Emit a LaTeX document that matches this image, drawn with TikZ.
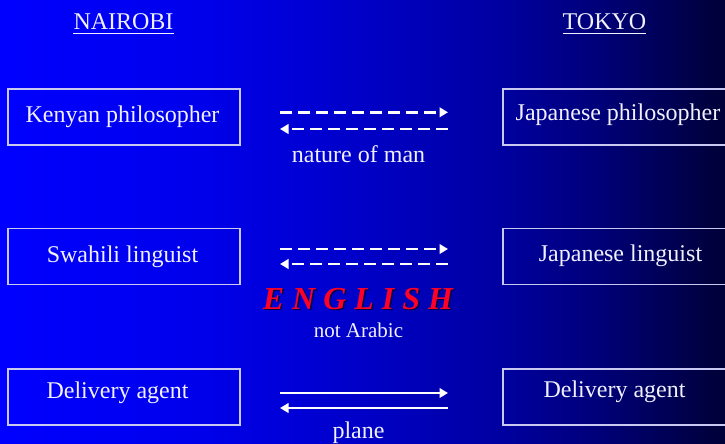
\documentclass[tikz,border=0pt]{standalone}
\usepackage{fontspec}
\setmainfont{Liberation Serif}
\usetikzlibrary{arrows.meta}
\definecolor{txt}{RGB}{240,240,255}
\definecolor{brd}{RGB}{200,200,240}
\definecolor{engred}{RGB}{255,0,40}
\definecolor{shad}{RGB}{0,0,70}
\definecolor{bg0}{RGB}{0,0,255}
\definecolor{bg1}{RGB}{0,0,235}
\definecolor{bg2}{RGB}{0,0,200}
\definecolor{bg3}{RGB}{0,0,160}
\definecolor{bg4}{RGB}{0,0,120}
\definecolor{bg5}{RGB}{0,0,55}
\pgfdeclarehorizontalshading{bgshade}{100bp}{color(0bp)=(bg0); color(25bp)=(bg0); color(38.8bp)=(bg1); color(49.8bp)=(bg2); color(59.5bp)=(bg3); color(66.4bp)=(bg4); color(75bp)=(bg5); color(100bp)=(bg5)}
\tikzset{
  box/.style={draw=brd, line width=1.2pt, minimum width=232pt, minimum height=56pt, inner sep=0pt},
  lbl/.style={text=txt, font=\fontsize{24}{28}\selectfont, anchor=base, inner sep=0pt},
  small/.style={text=txt, font=\fontsize{21}{25}\selectfont, anchor=base, inner sep=0pt},
  head/.style={text=txt, font=\fontsize{24}{28}\selectfont, anchor=base, inner sep=0pt},
  arr/.style={draw=white, line width=2.4pt, -{Triangle[length=8.5pt,width=9.5pt]}},
  darr/.style={arr, dash pattern=on 12pt off 6pt},
  eng/.style={font=\fontsize{32}{36}\selectfont\bfseries\itshape, anchor=base, inner sep=0pt}
}
\begin{document}
\begin{tikzpicture}[x=1pt,y=-1pt]
\useasboundingbox (0,0) rectangle (725,444);
\shade[shading=bgshade] (0,0) rectangle (725,444);
\begin{scope}
\clip (0,0) rectangle (725,444);
% headers
\node[head] (nairobi) at (123.5,30) {NAIROBI};
\node[head] (tokyo) at (604.5,30) {TOKYO};
\draw[txt, line width=1.3pt] ([yshift=-3.5pt]nairobi.base west) -- ([yshift=-3.5pt]nairobi.base east);
\draw[txt, line width=1.3pt] ([yshift=-3.5pt]tokyo.base west) -- ([yshift=-3.5pt]tokyo.base east);
% boxes
\node[box] (kpbox) at (124,117) {};
\node[box] (slbox) at (124,256.5) {};
\node[box] (dabox) at (124,397) {};
\node[box, minimum width=250pt] (jpbox) at (628,117) {};
\node[box, minimum width=250pt] (jlbox) at (628,256.5) {};
\node[box, minimum width=250pt] (jdbox) at (628,397) {};
% box texts
\node[lbl] (kp) at (122.5,122) {Kenyan philosopher};
\node[lbl] (sl) at (122.5,262) {Swahili linguist};
\node[lbl] (da) at (117.5,398) {Delivery agent};
\node[lbl] (jp) at (618,120.5) {Japanese philosopher};
\node[lbl] (jl) at (620.5,261) {Japanese linguist};
\node[lbl] (jd) at (614.5,397.5) {Delivery agent};
% arrow end points
\coordinate (r1a) at (280,112.3); \coordinate (r1b) at (448,112.3);
\coordinate (r1c) at (448,129); \coordinate (r1d) at (280,129);
\coordinate (r2a) at (280,249); \coordinate (r2b) at (448,249);
\coordinate (r2c) at (448,264); \coordinate (r2d) at (280,264);
\coordinate (r3a) at (280,393); \coordinate (r3b) at (448,393);
\coordinate (r3c) at (448,408); \coordinate (r3d) at (280,408);
\draw[darr] (r1a) -- (r1b);
\draw[darr] (r1c) -- (r1d);
\draw[darr] (r2a) -- (r2b);
\draw[darr] (r2c) -- (r2d);
\draw[arr] (r3a) -- (r3b);
\draw[arr] (r3c) -- (r3d);
% middle labels
\node[lbl] (nature) at (358.5,162) {nature of man};
\node[eng, text=shad] (engshadow) at (359.5,310.5) {E N G L I S H};
\node[eng, text=engred] (english) at (358,309) {E N G L I S H};
\node[small] (arabic) at (358.5,337) {not Arabic};
\node[lbl] (plane) at (358.5,438) {plane};
\end{scope}
\end{tikzpicture}
\end{document}
